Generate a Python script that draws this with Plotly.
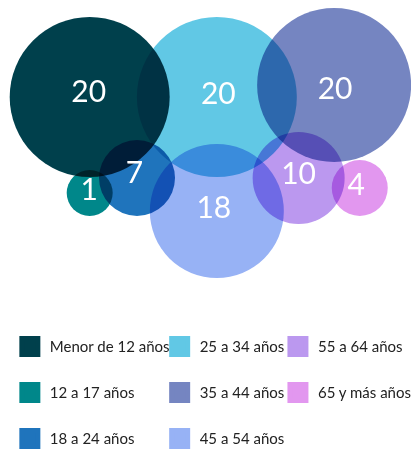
import plotly.graph_objects as go

# ---- data ----
categories = ["Menor de 12 años", "12 a 17 años", "18 a 24 años", "25 a 34 años",
              "35 a 44 años", "45 a 54 años", "55 a 64 años", "65 y más años"]
values = [20, 1, 7, 20, 20, 18, 10, 4]

# ---- styles / layout (not data) ----
colors = ["#00404C", "#00878A", "#1F74BC", "#61C8E5",
          "#7585C1", "#97B2F5", "#BB98EF", "#E297EF"]
# packed-bubble layout: centres and radii in pixels
cx = [91, 91, 139, 220, 339, 220, 303, 365]
cy = [97, 193, 178, 97, 85, 211, 178, 188]
radius = [80, 23, 38, 80, 77, 67, 46, 28]
# label anchor points (pixels)
lx = [90, 90.5, 136.5, 221.5, 340, 217, 303, 361.5]
ly = [94.5, 192, 175, 96, 91, 210.5, 176.5, 187.5]
legend_of = ["legend", "legend", "legend", "legend2", "legend2", "legend2", "legend3", "legend3"]

W = 417
H_FIG = 470          # drawn taller; the 450 px window shows the top part
FONT = "Lato, 'Open Sans', sans-serif"

fig = go.Figure()

# bubbles
for name, v, c, x, y, r in zip(categories, values, colors, cx, cy, radius):
    fig.add_trace(go.Scatter(
        x=[x], y=[y], mode="markers", name=name, legendgroup=name,
        showlegend=False, hoverinfo="text", hovertext=[f"{name}: {v}"],
        marker=dict(size=2 * r, color=c, line=dict(width=0), opacity=1),
    ))

# value labels
fig.add_trace(go.Scatter(
    x=lx, y=ly, mode="text", text=[str(v) for v in values],
    textposition="middle center", showlegend=False, hoverinfo="skip",
    textfont=dict(family=FONT, size=30, color="white"),
))

# legend entries (square swatches)
for name, c, lg in zip(categories, colors, legend_of):
    fig.add_trace(go.Scatter(
        x=[None], y=[None], mode="markers", name=name, legendgroup=name,
        legend=lg, showlegend=True,
        marker=dict(symbol="square", size=16, color=c, line=dict(width=5, color=c)),
    ))

leg_common = dict(
    orientation="v", yanchor="top", xanchor="left", y=1 - 330.25 / H_FIG,
    font=dict(family=FONT, size=15, color="#222222"),
    bgcolor="rgba(0,0,0,0)", borderwidth=0, traceorder="grouped",
    tracegroupgap=23.5, itemclick=False, itemdoubleclick=False,
)

fig.update_layout(
    width=W, height=H_FIG,
    margin=dict(l=0, r=0, t=0, b=0),
    paper_bgcolor="white", plot_bgcolor="white",
    xaxis=dict(range=[0, W], visible=False, fixedrange=True),
    yaxis=dict(range=[H_FIG, 0], visible=False, fixedrange=True),
    legend=dict(leg_common, x=10 / W),
    legend2=dict(leg_common, x=162 / W),
    legend3=dict(leg_common, x=282 / W),
    showlegend=True,
)

post = """
document.documentElement.style.margin = '0';
document.body.style.margin = '0';
document.body.style.padding = '0';
document.body.style.overflow = 'hidden';
var gd = document.getElementById('{plot_id}');
function blend(){
  gd.querySelectorAll('.scatterlayer path.point').forEach(function(p){
    p.style.mixBlendMode = 'multiply';
  });
}
blend();
gd.on('plotly_afterplot', blend);
"""

fig.write_html("out.html", post_script=post, config={"displayModeBar": False})
